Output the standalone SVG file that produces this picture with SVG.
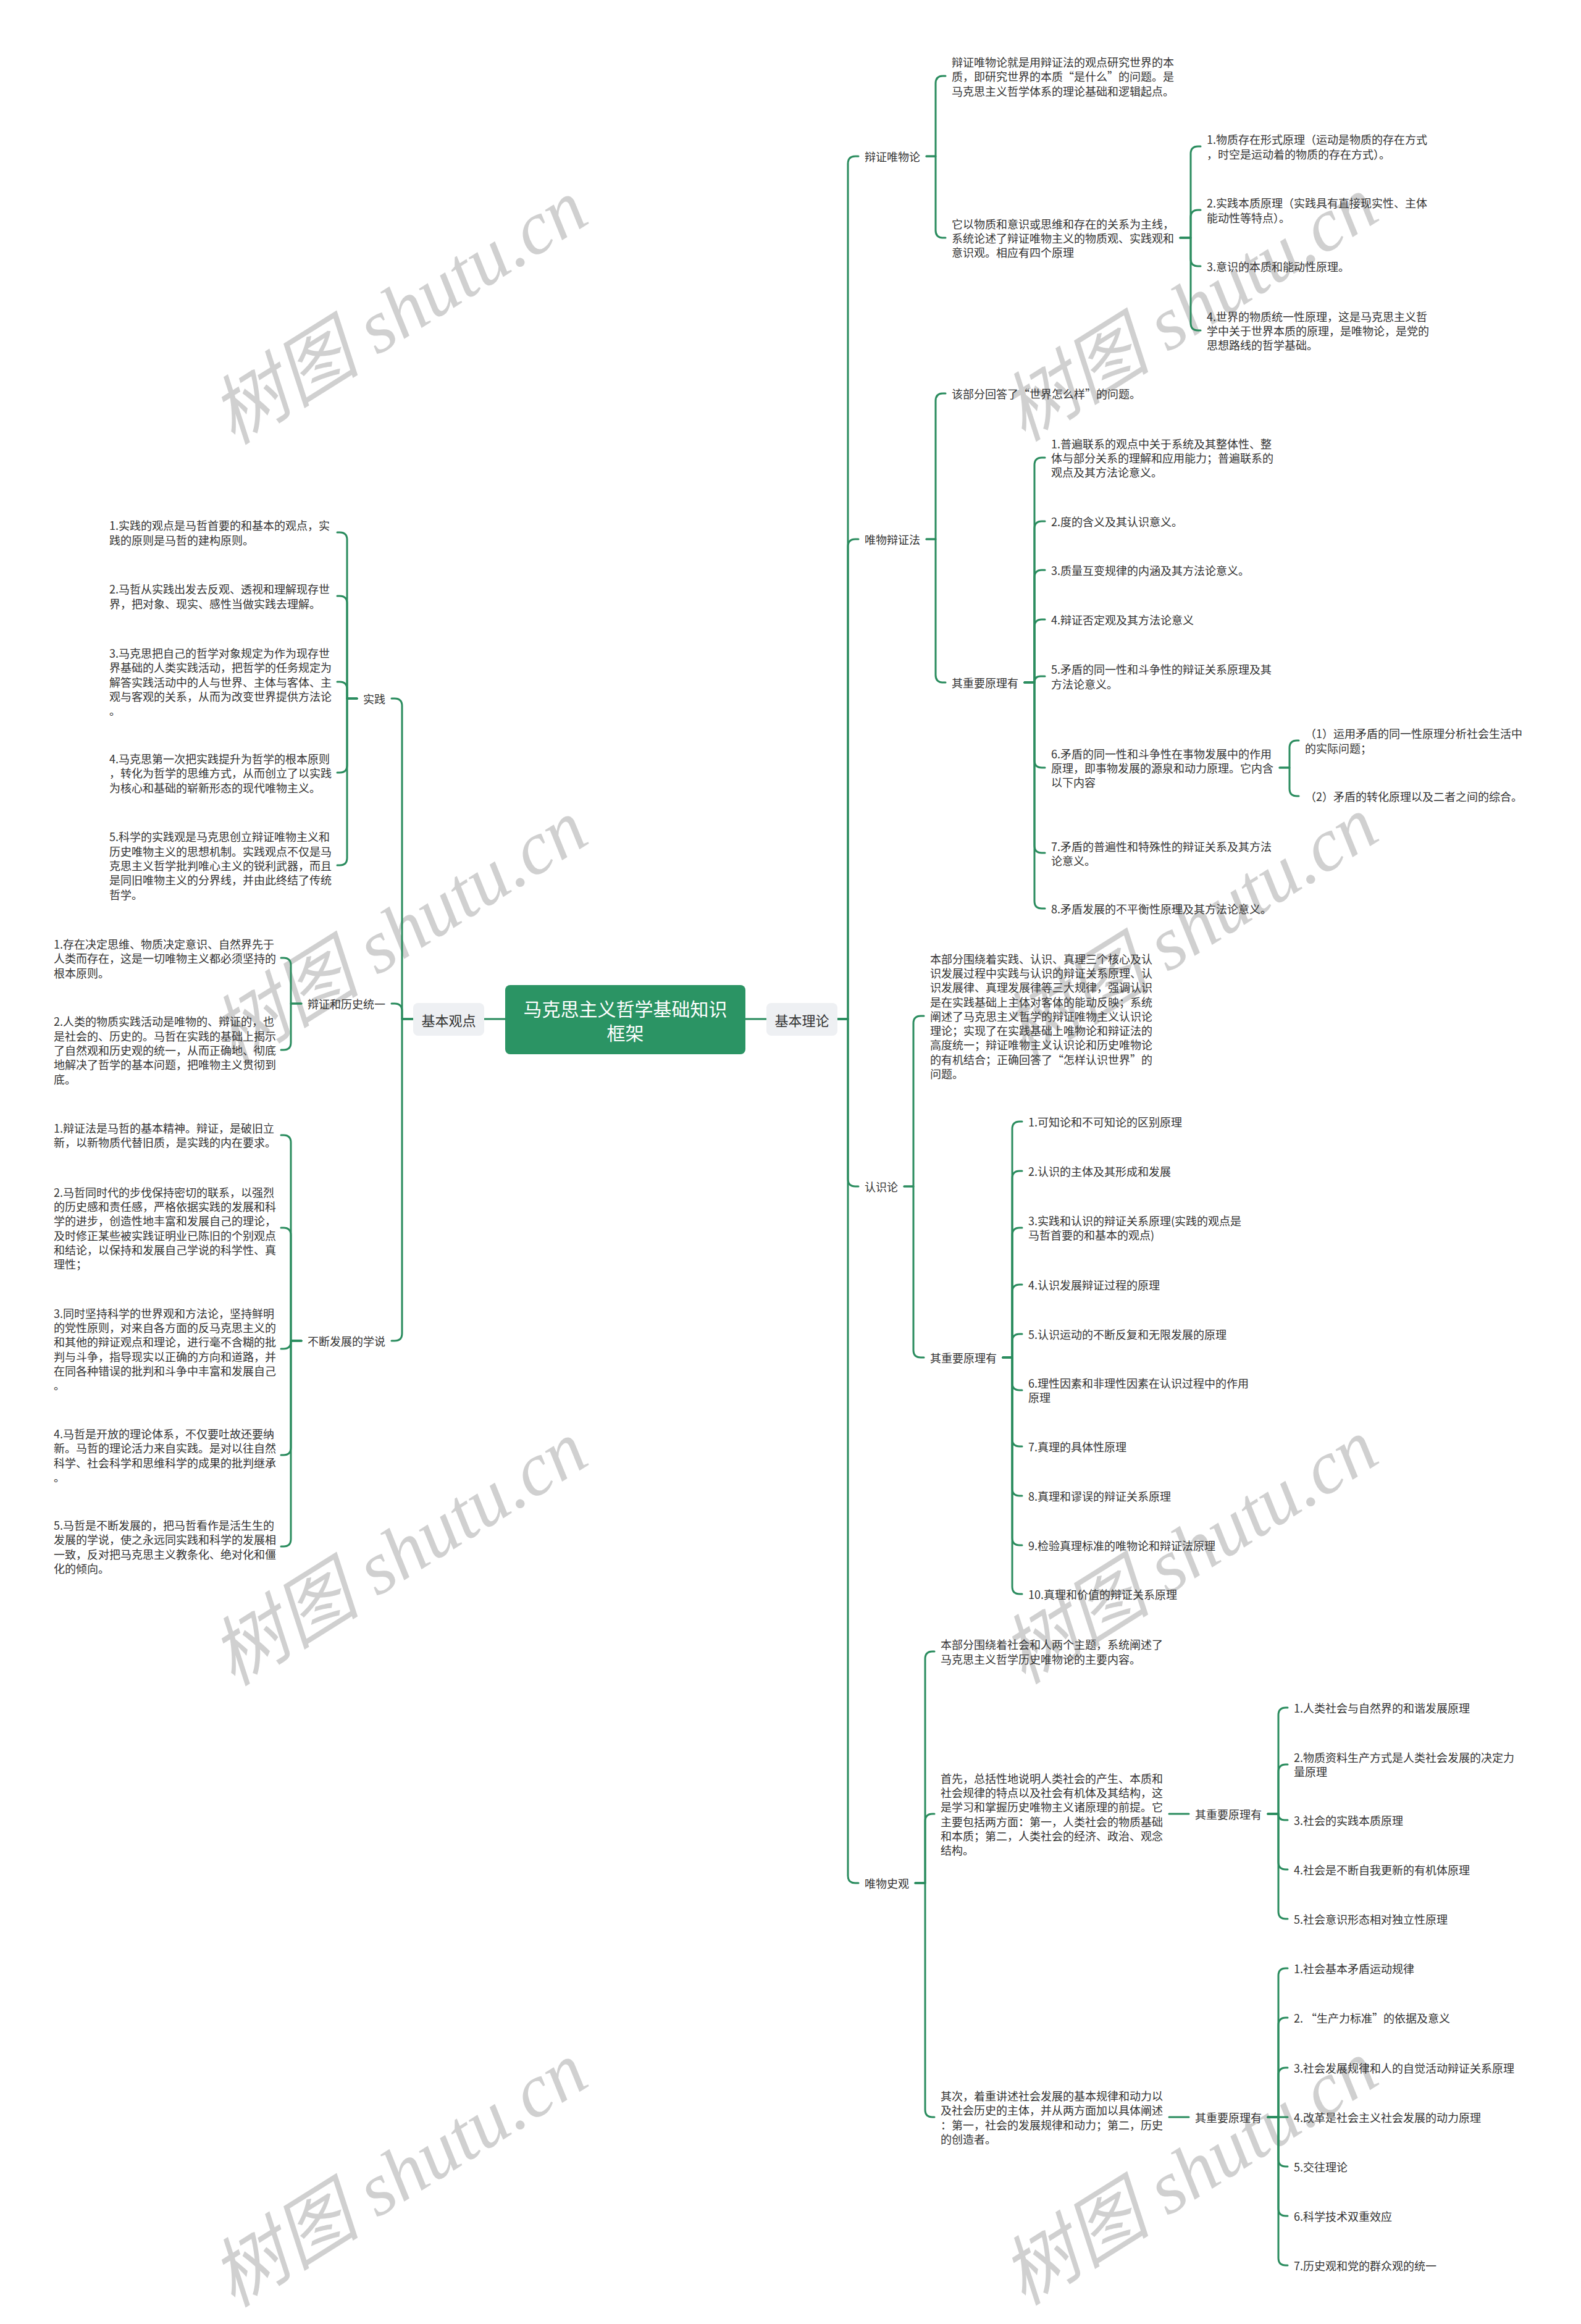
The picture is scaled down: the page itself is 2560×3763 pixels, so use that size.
<svg xmlns="http://www.w3.org/2000/svg" width="2560" height="3763" viewBox="0 0 2560 3763">
<style>
text{font-family:"Noto Sans CJK SC","Liberation Sans",sans-serif;dominant-baseline:central}
tspan{dominant-baseline:central}
.t{font-size:18px;fill:#333}
.lab{font-size:18px;fill:#333}
.big{font-size:22px;fill:#333}
.root{font-size:30px;fill:#fff}
.wm{font-family:"Liberation Serif","Noto Sans CJK SC",serif;font-style:italic;font-size:122px;fill:#d0d0d0}
.c{fill:none;stroke:#2a8c5e;stroke-width:3;stroke-linecap:round;stroke-linejoin:round}
</style>
<rect width="2560" height="3763" fill="#fff"/>
<g id="watermarks">
<text class="wm" text-anchor="middle" transform="translate(646,505) rotate(-32)">树图 shutu.cn</text>
<text class="wm" text-anchor="middle" transform="translate(1926,500) rotate(-32)">树图 shutu.cn</text>
<text class="wm" text-anchor="middle" transform="translate(646,1509) rotate(-32)">树图 shutu.cn</text>
<text class="wm" text-anchor="middle" transform="translate(1926,1504) rotate(-32)">树图 shutu.cn</text>
<text class="wm" text-anchor="middle" transform="translate(646,2515) rotate(-32)">树图 shutu.cn</text>
<text class="wm" text-anchor="middle" transform="translate(1926,2512) rotate(-32)">树图 shutu.cn</text>
<text class="wm" text-anchor="middle" transform="translate(646,3521) rotate(-32)">树图 shutu.cn</text>
<text class="wm" text-anchor="middle" transform="translate(1926,3518) rotate(-32)">树图 shutu.cn</text>
</g>
<g id="connectors" class="c">
<path d="M1207 1650H1241"/>
<path d="M818 1650H784"/>
<path d="M1356 1650H1373V265Q1373 253 1385 253H1390"/>
<path d="M1356 1650H1373V885Q1373 873 1385 873H1390"/>
<path d="M1356 1650H1373V1909Q1373 1921 1385 1921H1390"/>
<path d="M1356 1650H1373V3037Q1373 3049 1385 3049H1390"/>
<path d="M1500 253H1515V135Q1515 123 1527 123H1531"/>
<path d="M1500 253H1515V373Q1515 385 1527 385H1531"/>
<path d="M1911 385H1928V249Q1928 237 1940 237H1944"/>
<path d="M1911 385H1928V352Q1928 340 1940 340H1944"/>
<path d="M1911 385H1928V419Q1928 431 1940 431H1944"/>
<path d="M1911 385H1928V523Q1928 535 1940 535H1944"/>
<path d="M1500 873H1515V649Q1515 637 1527 637H1531"/>
<path d="M1500 873H1515V1093Q1515 1105 1527 1105H1531"/>
<path d="M1659 1105H1675V753Q1675 741 1687 741H1692"/>
<path d="M1659 1105H1675V856Q1675 844 1687 844H1692"/>
<path d="M1659 1105H1675V935Q1675 923 1687 923H1692"/>
<path d="M1659 1105H1675V1015Q1675 1003 1687 1003H1692"/>
<path d="M1659 1105H1675Q1675 1095 1685 1095H1692"/>
<path d="M1659 1105H1675V1231Q1675 1243 1687 1243H1692"/>
<path d="M1659 1105H1675V1369Q1675 1381 1687 1381H1692"/>
<path d="M1659 1105H1675V1459Q1675 1471 1687 1471H1692"/>
<path d="M2072 1243H2088V1211Q2088 1199 2100 1199H2103"/>
<path d="M2072 1243H2088V1277Q2088 1289 2100 1289H2103"/>
<path d="M1464 1921H1479V1657Q1479 1645 1491 1645H1496"/>
<path d="M1464 1921H1479V2186Q1479 2198 1491 2198H1496"/>
<path d="M1624 2198H1639V1828Q1639 1816 1651 1816H1655"/>
<path d="M1624 2198H1639V1908Q1639 1896 1651 1896H1655"/>
<path d="M1624 2198H1639V2000Q1639 1988 1651 1988H1655"/>
<path d="M1624 2198H1639V2092Q1639 2080 1651 2080H1655"/>
<path d="M1624 2198H1639V2172Q1639 2160 1651 2160H1655"/>
<path d="M1624 2198H1639V2239Q1639 2251 1651 2251H1655"/>
<path d="M1624 2198H1639V2330Q1639 2342 1651 2342H1655"/>
<path d="M1624 2198H1639V2410Q1639 2422 1651 2422H1655"/>
<path d="M1624 2198H1639V2490Q1639 2502 1651 2502H1655"/>
<path d="M1624 2198H1639V2569Q1639 2581 1651 2581H1655"/>
<path d="M1482 3049H1498V2686Q1498 2674 1510 2674H1513"/>
<path d="M1482 3049H1498V2949Q1498 2937 1510 2937H1513"/>
<path d="M1482 3049H1498V3416Q1498 3428 1510 3428H1513"/>
<path d="M1893 2937H1925"/>
<path d="M2053 2937H2070V2777Q2070 2765 2082 2765H2085"/>
<path d="M2053 2937H2070V2869Q2070 2857 2082 2857H2085"/>
<path d="M2053 2937H2070Q2070 2947 2080 2947H2085"/>
<path d="M2053 2937H2070V3015Q2070 3027 2082 3027H2085"/>
<path d="M2053 2937H2070V3095Q2070 3107 2082 3107H2085"/>
<path d="M1893 3428H1925"/>
<path d="M2053 3428H2070V3199Q2070 3187 2082 3187H2085"/>
<path d="M2053 3428H2070V3279Q2070 3267 2082 3267H2085"/>
<path d="M2053 3428H2070V3360Q2070 3348 2082 3348H2085"/>
<path d="M2053 3428H2085"/>
<path d="M2053 3428H2070V3496Q2070 3508 2082 3508H2085"/>
<path d="M2053 3428H2070V3576Q2070 3588 2082 3588H2085"/>
<path d="M2053 3428H2070V3656Q2070 3668 2082 3668H2085"/>
<path d="M669 1650H651V1143Q651 1131 639 1131H634"/>
<path d="M669 1650H651V1637Q651 1625 639 1625H634"/>
<path d="M669 1650H651V2159Q651 2171 639 2171H634"/>
<path d="M578 1131H562V874Q562 862 550 862H546"/>
<path d="M578 1131H562V977Q562 965 550 965H546"/>
<path d="M578 1131H562V1116Q562 1104 550 1104H546"/>
<path d="M578 1131H562V1239Q562 1251 550 1251H546"/>
<path d="M578 1131H562V1389Q562 1401 550 1401H546"/>
<path d="M488 1625H471V1563Q471 1551 459 1551H455"/>
<path d="M488 1625H471V1688Q471 1700 459 1700H455"/>
<path d="M488 2171H471V1850Q471 1838 459 1838H455"/>
<path d="M488 2171H471V2000Q471 1988 459 1988H455"/>
<path d="M488 2171H471V2172Q471 2184 459 2184H455"/>
<path d="M488 2171H471V2344Q471 2356 459 2356H455"/>
<path d="M488 2171H471V2492Q471 2504 459 2504H455"/>
</g>
<g id="root">
<rect x="818" y="1595" width="389" height="112" rx="8" fill="#2b9464"/>
<text class="root" text-anchor="middle"><tspan x="1012.5" y="1632">马克思主义哲学基础知识</tspan><tspan x="1012.5" y="1671">框架</tspan></text>
</g>
<g id="jiben-lilun">
<rect x="1241" y="1624" width="115" height="53" rx="8" fill="#eef0f3"/>
<text class="big" x="1298.5" y="1650.5" text-anchor="middle">基本理论</text>
</g>
<g id="jiben-guandian">
<rect x="669" y="1624" width="115" height="53" rx="8" fill="#eef0f3"/>
<text class="big" x="726.5" y="1650.5" text-anchor="middle">基本观点</text>
</g>
<g id="bzwwl"><text class="lab" x="1400" y="253">辩证唯物论</text></g>
<g id="bzwwl-1"><text class="t"><tspan x="1541" y="100">辩证唯物论就是用辩证法的观点研究世界的本</tspan><tspan x="1541" y="123">质，即研究世界的本质“是什么”的问题。是</tspan><tspan x="1541" y="147">马克思主义哲学体系的理论基础和逻辑起点。</tspan></text></g>
<g id="bzwwl-2"><text class="t"><tspan x="1541" y="362">它以物质和意识或思维和存在的关系为主线，</tspan><tspan x="1541" y="385">系统论述了辩证唯物主义的物质观、实践观和</tspan><tspan x="1541" y="408">意识观。相应有四个原理</tspan></text></g>
<g id="bzwwl-2-1"><text class="t"><tspan x="1954" y="225">1.物质存在形式原理（运动是物质的存在方式</tspan><tspan x="1954" y="249">，时空是运动着的物质的存在方式）。</tspan></text></g>
<g id="bzwwl-2-2"><text class="t"><tspan x="1954" y="328">2.实践本质原理（实践具有直接现实性、主体</tspan><tspan x="1954" y="352">能动性等特点）。</tspan></text></g>
<g id="bzwwl-2-3"><text class="t" x="1954" y="431">3.意识的本质和能动性原理。</text></g>
<g id="bzwwl-2-4"><text class="t"><tspan x="1954" y="512">4.世界的物质统一性原理，这是马克思主义哲</tspan><tspan x="1954" y="535">学中关于世界本质的原理，是唯物论，是党的</tspan><tspan x="1954" y="558">思想路线的哲学基础。</tspan></text></g>
<g id="wwbzf"><text class="lab" x="1400" y="873">唯物辩证法</text></g>
<g id="wwbzf-1"><text class="t" x="1541" y="637">该部分回答了“世界怎么样”的问题。</text></g>
<g id="wwbzf-2"><text class="t" x="1541" y="1105">其重要原理有</text></g>
<g id="wwbzf-2-1"><text class="t"><tspan x="1702" y="718">1.普遍联系的观点中关于系统及其整体性、整</tspan><tspan x="1702" y="741">体与部分关系的理解和应用能力；普遍联系的</tspan><tspan x="1702" y="764">观点及其方法论意义。</tspan></text></g>
<g id="wwbzf-2-2"><text class="t" x="1702" y="844">2.度的含义及其认识意义。</text></g>
<g id="wwbzf-2-3"><text class="t" x="1702" y="923">3.质量互变规律的内涵及其方法论意义。</text></g>
<g id="wwbzf-2-4"><text class="t" x="1702" y="1003">4.辩证否定观及其方法论意义</text></g>
<g id="wwbzf-2-5"><text class="t"><tspan x="1702" y="1083">5.矛盾的同一性和斗争性的辩证关系原理及其</tspan><tspan x="1702" y="1107">方法论意义。</tspan></text></g>
<g id="wwbzf-2-6"><text class="t"><tspan x="1702" y="1220">6.矛盾的同一性和斗争性在事物发展中的作用</tspan><tspan x="1702" y="1243">原理，即事物发展的源泉和动力原理。它内含</tspan><tspan x="1702" y="1266">以下内容</tspan></text></g>
<g id="wwbzf-2-6-1"><text class="t"><tspan x="2113" y="1187">（1）运用矛盾的同一性原理分析社会生活中</tspan><tspan x="2113" y="1211">的实际问题；</tspan></text></g>
<g id="wwbzf-2-6-2"><text class="t" x="2113" y="1289">（2）矛盾的转化原理以及二者之间的综合。</text></g>
<g id="wwbzf-2-7"><text class="t"><tspan x="1702" y="1370">7.矛盾的普遍性和特殊性的辩证关系及其方法</tspan><tspan x="1702" y="1393">论意义。</tspan></text></g>
<g id="wwbzf-2-8"><text class="t" x="1702" y="1471">8.矛盾发展的不平衡性原理及其方法论意义。</text></g>
<g id="rsl"><text class="lab" x="1400" y="1921">认识论</text></g>
<g id="rsl-1"><text class="t"><tspan x="1506" y="1552">本部分围绕着实践、认识、真理三个核心及认</tspan><tspan x="1506" y="1575">识发展过程中实践与认识的辩证关系原理、认</tspan><tspan x="1506" y="1598">识发展律、真理发展律等三大规律，强调认识</tspan><tspan x="1506" y="1622">是在实践基础上主体对客体的能动反映；系统</tspan><tspan x="1506" y="1645">阐述了马克思主义哲学的辩证唯物主义认识论</tspan><tspan x="1506" y="1668">理论；实现了在实践基础上唯物论和辩证法的</tspan><tspan x="1506" y="1691">高度统一；辩证唯物主义认识论和历史唯物论</tspan><tspan x="1506" y="1715">的有机结合；正确回答了“怎样认识世界”的</tspan><tspan x="1506" y="1738">问题。</tspan></text></g>
<g id="rsl-2"><text class="t" x="1506" y="2198">其重要原理有</text></g>
<g id="rsl-2-1"><text class="t" x="1665" y="1816">1.可知论和不可知论的区别原理</text></g>
<g id="rsl-2-2"><text class="t" x="1665" y="1896">2.认识的主体及其形成和发展</text></g>
<g id="rsl-2-3"><text class="t"><tspan x="1665" y="1976">3.实践和认识的辩证关系原理(实践的观点是</tspan><tspan x="1665" y="1999">马哲首要的和基本的观点)</tspan></text></g>
<g id="rsl-2-4"><text class="t" x="1665" y="2080">4.认识发展辩证过程的原理</text></g>
<g id="rsl-2-5"><text class="t" x="1665" y="2160">5.认识运动的不断反复和无限发展的原理</text></g>
<g id="rsl-2-6"><text class="t"><tspan x="1665" y="2239">6.理性因素和非理性因素在认识过程中的作用</tspan><tspan x="1665" y="2262">原理</tspan></text></g>
<g id="rsl-2-7"><text class="t" x="1665" y="2342">7.真理的具体性原理</text></g>
<g id="rsl-2-8"><text class="t" x="1665" y="2422">8.真理和谬误的辩证关系原理</text></g>
<g id="rsl-2-9"><text class="t" x="1665" y="2502">9.检验真理标准的唯物论和辩证法原理</text></g>
<g id="rsl-2-10"><text class="t" x="1665" y="2581">10.真理和价值的辩证关系原理</text></g>
<g id="wwsg"><text class="lab" x="1400" y="3049">唯物史观</text></g>
<g id="wwsg-1"><text class="t"><tspan x="1523" y="2662">本部分围绕着社会和人两个主题，系统阐述了</tspan><tspan x="1523" y="2686">马克思主义哲学历史唯物论的主要内容。</tspan></text></g>
<g id="wwsg-2"><text class="t"><tspan x="1523" y="2879">首先，总括性地说明人类社会的产生、本质和</tspan><tspan x="1523" y="2902">社会规律的特点以及社会有机体及其结构，这</tspan><tspan x="1523" y="2925">是学习和掌握历史唯物主义诸原理的前提。它</tspan><tspan x="1523" y="2949">主要包括两方面：第一，人类社会的物质基础</tspan><tspan x="1523" y="2972">和本质；第二，人类社会的经济、政治、观念</tspan><tspan x="1523" y="2995">结构。</tspan></text></g>
<g id="wwsg-2-1"><text class="t" x="1935" y="2937">其重要原理有</text></g>
<g id="wwsg-2-1-1"><text class="t" x="2095" y="2765">1.人类社会与自然界的和谐发展原理</text></g>
<g id="wwsg-2-1-2"><text class="t"><tspan x="2095" y="2845">2.物质资料生产方式是人类社会发展的决定力</tspan><tspan x="2095" y="2868">量原理</tspan></text></g>
<g id="wwsg-2-1-3"><text class="t" x="2095" y="2947">3.社会的实践本质原理</text></g>
<g id="wwsg-2-1-4"><text class="t" x="2095" y="3027">4.社会是不断自我更新的有机体原理</text></g>
<g id="wwsg-2-1-5"><text class="t" x="2095" y="3107">5.社会意识形态相对独立性原理</text></g>
<g id="wwsg-3"><text class="t"><tspan x="1523" y="3393">其次，着重讲述社会发展的基本规律和动力以</tspan><tspan x="1523" y="3416">及社会历史的主体，并从两方面加以具体阐述</tspan><tspan x="1523" y="3440">：第一，社会的发展规律和动力；第二，历史</tspan><tspan x="1523" y="3463">的创造者。</tspan></text></g>
<g id="wwsg-3-1"><text class="t" x="1935" y="3428">其重要原理有</text></g>
<g id="wwsg-3-1-1"><text class="t" x="2095" y="3187">1.社会基本矛盾运动规律</text></g>
<g id="wwsg-3-1-2"><text class="t" x="2095" y="3267">2. “生产力标准”的依据及意义</text></g>
<g id="wwsg-3-1-3"><text class="t" x="2095" y="3348">3.社会发展规律和人的自觉活动辩证关系原理</text></g>
<g id="wwsg-3-1-4"><text class="t" x="2095" y="3428">4.改革是社会主义社会发展的动力原理</text></g>
<g id="wwsg-3-1-5"><text class="t" x="2095" y="3508">5.交往理论</text></g>
<g id="wwsg-3-1-6"><text class="t" x="2095" y="3588">6.科学技术双重效应</text></g>
<g id="wwsg-3-1-7"><text class="t" x="2095" y="3668">7.历史观和党的群众观的统一</text></g>
<g id="shijian"><text class="lab" x="624" y="1131" text-anchor="end">实践</text></g>
<g id="shijian-1"><text class="t"><tspan x="177" y="850">1.实践的观点是马哲首要的和基本的观点，实</tspan><tspan x="177" y="874">践的原则是马哲的建构原则。</tspan></text></g>
<g id="shijian-2"><text class="t"><tspan x="177" y="953">2.马哲从实践出发去反观、透视和理解现存世</tspan><tspan x="177" y="977">界，把对象、现实、感性当做实践去理解。</tspan></text></g>
<g id="shijian-3"><text class="t"><tspan x="177" y="1057">3.马克思把自己的哲学对象规定为作为现存世</tspan><tspan x="177" y="1080">界基础的人类实践活动，把哲学的任务规定为</tspan><tspan x="177" y="1104">解答实践活动中的人与世界、主体与客体、主</tspan><tspan x="177" y="1127">观与客观的关系，从而为改变世界提供方法论</tspan><tspan x="177" y="1150">。</tspan></text></g>
<g id="shijian-4"><text class="t"><tspan x="177" y="1228">4.马克思第一次把实践提升为哲学的根本原则</tspan><tspan x="177" y="1251">，转化为哲学的思维方式，从而创立了以实践</tspan><tspan x="177" y="1275">为核心和基础的崭新形态的现代唯物主义。</tspan></text></g>
<g id="shijian-5"><text class="t"><tspan x="177" y="1354">5.科学的实践观是马克思创立辩证唯物主义和</tspan><tspan x="177" y="1378">历史唯物主义的思想机制。实践观点不仅是马</tspan><tspan x="177" y="1401">克思主义哲学批判唯心主义的锐利武器，而且</tspan><tspan x="177" y="1424">是同旧唯物主义的分界线，并由此终结了传统</tspan><tspan x="177" y="1448">哲学。</tspan></text></g>
<g id="tongyi"><text class="lab" x="624" y="1625" text-anchor="end">辩证和历史统一</text></g>
<g id="tongyi-1"><text class="t"><tspan x="87" y="1528">1.存在决定思维、物质决定意识、自然界先于</tspan><tspan x="87" y="1551">人类而存在，这是一切唯物主义都必须坚持的</tspan><tspan x="87" y="1575">根本原则。</tspan></text></g>
<g id="tongyi-2"><text class="t"><tspan x="87" y="1653">2.人类的物质实践活动是唯物的、辩证的，也</tspan><tspan x="87" y="1677">是社会的、历史的。马哲在实践的基础上揭示</tspan><tspan x="87" y="1700">了自然观和历史观的统一，从而正确地、彻底</tspan><tspan x="87" y="1723">地解决了哲学的基本问题，把唯物主义贯彻到</tspan><tspan x="87" y="1747">底。</tspan></text></g>
<g id="fazhan"><text class="lab" x="624" y="2171" text-anchor="end">不断发展的学说</text></g>
<g id="fazhan-1"><text class="t"><tspan x="87" y="1826">1.辩证法是马哲的基本精神。辩证，是破旧立</tspan><tspan x="87" y="1849">新，以新物质代替旧质，是实践的内在要求。</tspan></text></g>
<g id="fazhan-2"><text class="t"><tspan x="87" y="1930">2.马哲同时代的步伐保持密切的联系，以强烈</tspan><tspan x="87" y="1953">的历史感和责任感，严格依据实践的发展和科</tspan><tspan x="87" y="1976">学的进步，创造性地丰富和发展自己的理论，</tspan><tspan x="87" y="2000">及时修正某些被实践证明业已陈旧的个别观点</tspan><tspan x="87" y="2023">和结论，以保持和发展自己学说的科学性、真</tspan><tspan x="87" y="2046">理性；</tspan></text></g>
<g id="fazhan-3"><text class="t"><tspan x="87" y="2126">3.同时坚持科学的世界观和方法论，坚持鲜明</tspan><tspan x="87" y="2149">的党性原则，对来自各方面的反马克思主义的</tspan><tspan x="87" y="2172">和其他的辩证观点和理论，进行毫不含糊的批</tspan><tspan x="87" y="2196">判与斗争，指导现实以正确的方向和道路，并</tspan><tspan x="87" y="2219">在同各种错误的批判和斗争中丰富和发展自己</tspan><tspan x="87" y="2242">。</tspan></text></g>
<g id="fazhan-4"><text class="t"><tspan x="87" y="2321">4.马哲是开放的理论体系，不仅要吐故还要纳</tspan><tspan x="87" y="2344">新。马哲的理论活力来自实践。是对以往自然</tspan><tspan x="87" y="2368">科学、社会科学和思维科学的成果的批判继承</tspan><tspan x="87" y="2391">。</tspan></text></g>
<g id="fazhan-5"><text class="t"><tspan x="87" y="2469">5.马哲是不断发展的，把马哲看作是活生生的</tspan><tspan x="87" y="2492">发展的学说，使之永远同实践和科学的发展相</tspan><tspan x="87" y="2516">一致，反对把马克思主义教条化、绝对化和僵</tspan><tspan x="87" y="2539">化的倾向。</tspan></text></g>
</svg>
